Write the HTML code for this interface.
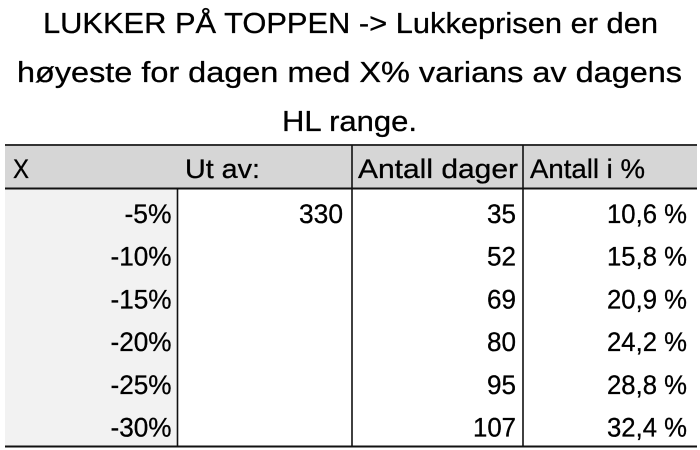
<!DOCTYPE html>
<html>
<head>
<meta charset="utf-8">
<style>
  html, body { margin:0; padding:0; background:#fff; }
  body { width:700px; height:450px; overflow:hidden; }
  svg { display:block; }
  text { font-family: "Liberation Sans", "DejaVu Sans", sans-serif; fill:#000; stroke:#000; stroke-width:0.3; }
</style>
</head>
<body>
<svg width="700" height="450" viewBox="0 0 700 450" xmlns="http://www.w3.org/2000/svg">
  <rect x="0" y="0" width="700" height="450" fill="#fff"/>

  <!-- Title -->
  <g font-size="29">
    <text x="43" y="33" textLength="615" lengthAdjust="spacingAndGlyphs">LUKKER PÅ TOPPEN -&gt; Lukkeprisen er den</text>
    <text x="17" y="82" textLength="665" lengthAdjust="spacingAndGlyphs">høyeste for dagen med X% varians av dagens</text>
    <text x="282" y="131" textLength="135" lengthAdjust="spacingAndGlyphs">HL range.</text>
  </g>

  <!-- Fills -->
  <rect x="5" y="145" width="692" height="43" fill="#d6d6d6"/>
  <rect x="5" y="189" width="172" height="257" fill="#f2f2f2"/>

  <!-- Borders -->
  <line x1="5" y1="145" x2="697" y2="145" stroke="#333" stroke-width="2"/>
  <line x1="5" y1="188.5" x2="697" y2="188.5" stroke="#111" stroke-width="2"/>
  <line x1="5" y1="446.5" x2="697" y2="446.5" stroke="#111" stroke-width="2"/>
  <line x1="177.5" y1="188" x2="177.5" y2="446" stroke="#111" stroke-width="1.6"/>
  <line x1="352" y1="145" x2="352" y2="446" stroke="#111" stroke-width="1.6"/>
  <line x1="523" y1="145" x2="523" y2="446" stroke="#111" stroke-width="1.6"/>

  <!-- Header -->
  <g font-size="27">
    <text x="13" y="178" textLength="16" lengthAdjust="spacingAndGlyphs">X</text>
    <text x="185" y="178" textLength="75" lengthAdjust="spacingAndGlyphs">Ut av:</text>
    <text x="358" y="178" textLength="160" lengthAdjust="spacingAndGlyphs">Antall dager</text>
    <text x="530" y="178" textLength="115" lengthAdjust="spacingAndGlyphs">Antall i %</text>
  </g>

  <!-- Body -->
  <g font-size="27" text-anchor="end">
    <text x="171.5" y="223" textLength="47" lengthAdjust="spacingAndGlyphs">-5%</text>
    <text x="171.5" y="265.7" textLength="61" lengthAdjust="spacingAndGlyphs">-10%</text>
    <text x="171.5" y="308.4" textLength="61" lengthAdjust="spacingAndGlyphs">-15%</text>
    <text x="171.5" y="351.1" textLength="61" lengthAdjust="spacingAndGlyphs">-20%</text>
    <text x="171.5" y="393.8" textLength="61" lengthAdjust="spacingAndGlyphs">-25%</text>
    <text x="171.5" y="436.5" textLength="61" lengthAdjust="spacingAndGlyphs">-30%</text>

    <text x="343" y="223" textLength="44" lengthAdjust="spacingAndGlyphs">330</text>

    <text x="516" y="223" textLength="29" lengthAdjust="spacingAndGlyphs">35</text>
    <text x="516" y="265.7" textLength="29" lengthAdjust="spacingAndGlyphs">52</text>
    <text x="516" y="308.4" textLength="29" lengthAdjust="spacingAndGlyphs">69</text>
    <text x="516" y="351.1" textLength="29" lengthAdjust="spacingAndGlyphs">80</text>
    <text x="516" y="393.8" textLength="29" lengthAdjust="spacingAndGlyphs">95</text>
    <text x="516" y="436.5" textLength="43" lengthAdjust="spacingAndGlyphs">107</text>

    <text x="687" y="223" textLength="80" lengthAdjust="spacingAndGlyphs">10,6 %</text>
    <text x="687" y="265.7" textLength="80" lengthAdjust="spacingAndGlyphs">15,8 %</text>
    <text x="687" y="308.4" textLength="80" lengthAdjust="spacingAndGlyphs">20,9 %</text>
    <text x="687" y="351.1" textLength="80" lengthAdjust="spacingAndGlyphs">24,2 %</text>
    <text x="687" y="393.8" textLength="80" lengthAdjust="spacingAndGlyphs">28,8 %</text>
    <text x="687" y="436.5" textLength="80" lengthAdjust="spacingAndGlyphs">32,4 %</text>
  </g>
</svg>
</body>
</html>
